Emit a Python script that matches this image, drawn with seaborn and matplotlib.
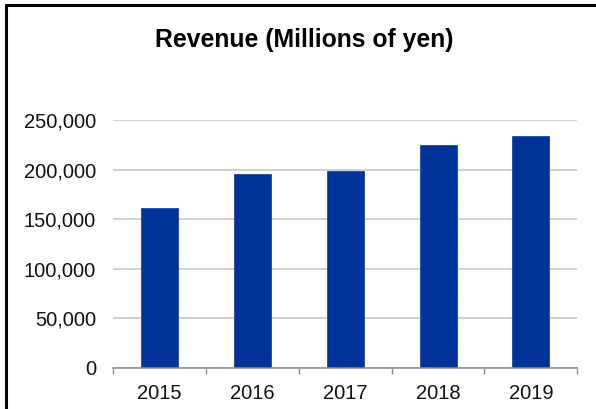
import matplotlib
matplotlib.use("Agg")
import matplotlib.pyplot as plt
from matplotlib.lines import Line2D
from matplotlib.ticker import FuncFormatter, FixedLocator
import seaborn as sns
import pandas as pd

# Annual revenue, millions of yen
years = ["2015", "2016", "2017", "2018", "2019"]
revenue = [161700, 195700, 199100, 224700, 234100]
y_ticks = [0, 50000, 100000, 150000, 200000, 250000]

df = pd.DataFrame({"year": years, "revenue": revenue})

sns.set_theme(style="white")
plt.rcParams["font.family"] = ["Liberation Sans", "DejaVu Sans"]

W, H = 596, 409
fig = plt.figure(figsize=(W / 100, H / 100), dpi=100)
fig.patch.set_facecolor("white")

ax = fig.add_axes([113.3 / W, 1 - 367.7 / H, (577.3 - 113.3) / W, (367.7 - 120.3) / H])
sns.barplot(data=df, x="year", y="revenue", color="#003399", width=0.4,
            saturation=1, edgecolor="#1a47a8", linewidth=0.6, ax=ax, zorder=3)

ax.set_ylim(0, 250000)
ax.set_xlim(-0.5, len(years) - 0.5)
ax.set_yticks(y_ticks)
ax.yaxis.set_major_formatter(FuncFormatter(lambda v, p: f"{v:,.0f}"))
ax.yaxis.grid(True, color="#c4c4c4", linewidth=1.1, zorder=0)
ax.set_axisbelow(True)
ax.set_xlabel("")
ax.set_ylabel("")

for side in ("top", "right", "left"):
    ax.spines[side].set_visible(False)
ax.spines["bottom"].set_color("#8c8c8c")
ax.spines["bottom"].set_linewidth(1.1)
ax.spines["bottom"].set_zorder(4)

ax.tick_params(axis="y", length=0, pad=12.5, labelsize=14.5, labelcolor="#111111")
ax.tick_params(axis="x", which="major", length=0, pad=12, labelsize=14.5, labelcolor="#111111")
ax.xaxis.set_minor_locator(FixedLocator([i - 0.5 for i in range(len(years) + 1)]))
ax.tick_params(axis="x", which="minor", bottom=True, length=4, width=1, color="#8c8c8c", direction="out")

fig.text(304 / W, 1 - 40 / H, "Revenue (Millions of yen)", ha="center", va="center",
         fontsize=17.8, fontweight="bold", color="#000000")

# Frame around the chart
fig.add_artist(Line2D([6 / W, 1], [1 - 5 / H, 1 - 5 / H], color="black", linewidth=2.2,
                      transform=fig.transFigure))
fig.add_artist(Line2D([6 / W, 6 / W], [0, 1 - 5 / H], color="black", linewidth=2.2,
                      transform=fig.transFigure))

fig.savefig("out.png", dpi=100, facecolor="white")
